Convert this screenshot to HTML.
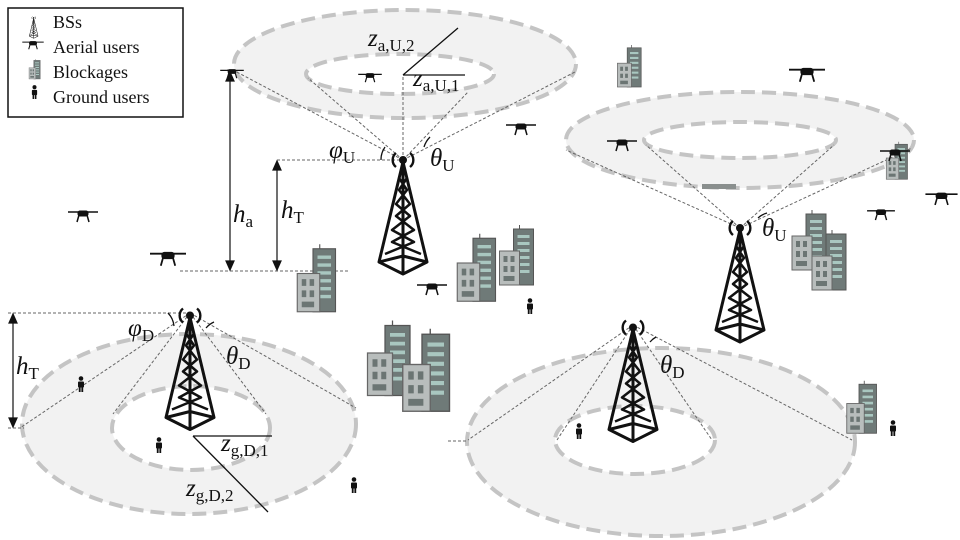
<!DOCTYPE html>
<html><head><meta charset="utf-8"><style>
body{margin:0;background:#fff}
svg{display:block}
text{font-family:"Liberation Serif",serif}
</style></head><body>
<svg width="960" height="540" viewBox="0 0 960 540" xmlns="http://www.w3.org/2000/svg">
<defs>
<symbol id="tw" viewBox="0 0 52 130" overflow="visible">
<g fill="none" stroke="#111" stroke-width="3" stroke-linejoin="round">
<path d="M19 3 A9 9 0 0 0 19 17 M33 3 A9 9 0 0 1 33 17" stroke-width="2.4"/>
<circle cx="26" cy="10" r="2.5" fill="#111"/>
<path d="M26 12 L2 112 L26 124 L50 112 Z M26 12 L26 124 M2 112 L26 106 L50 112"/>
<path d="M22 28 L30 40 L19 54 L33 66 L15 80 L37 92 L8 104 M30 28 L22 40 L33 54 L19 66 L37 80 L15 92 L44 104" stroke-width="2.5"/>
</g></symbol>
<symbol id="dr" viewBox="0 0 30 14" overflow="visible">
<g stroke="#111" fill="#111"><path d="M0 3 H11 M19 3 H30" stroke-width="1.5"/><rect x="10" y="2" width="10" height="5" rx="2"/><path d="M11 6 L9 13 M19 6 L21 13" stroke-width="1.5" fill="none"/></g></symbol>
<symbol id="pp" viewBox="0 0 8 16" overflow="visible">
<g fill="#111"><circle cx="4" cy="2.5" r="2.3"/><rect x="1" y="5.5" width="6" height="6" rx="1"/><rect x="1.8" y="11" width="1.8" height="5"/><rect x="4.4" y="11" width="1.8" height="5"/></g></symbol>
<symbol id="bd" viewBox="0 0 40 60" overflow="visible">
<rect x="16" y="4" width="20" height="56" fill="#6f7a78" stroke="#555"/>
<line x1="22" y1="0" x2="22" y2="4" stroke="#555"/>
<g fill="#a9c7c0"><rect x="20" y="10" width="12" height="3"/><rect x="20" y="17" width="12" height="3"/><rect x="20" y="24" width="12" height="3"/><rect x="20" y="31" width="12" height="3"/><rect x="20" y="38" width="12" height="3"/><rect x="20" y="45" width="12" height="3"/></g>
<rect x="2" y="26" width="20" height="34" fill="#b8bdbc" stroke="#666"/>
<g fill="#6b7573"><rect x="6" y="31" width="4" height="6"/><rect x="13" y="31" width="4" height="6"/><rect x="6" y="41" width="4" height="6"/><rect x="13" y="41" width="4" height="6"/><rect x="6" y="51" width="11" height="5"/></g>
</symbol>
</defs>

<g fill="#f2f2f2" stroke="#c4c4c4" stroke-width="4" stroke-dasharray="14 7">
<ellipse cx="405" cy="64" rx="171" ry="54"/>
<ellipse cx="740" cy="140" rx="174" ry="48"/>
<ellipse cx="189" cy="424" rx="167" ry="90"/>
<ellipse cx="661" cy="442" rx="194" ry="94"/>
</g>
<g fill="#fff" stroke="#c4c4c4" stroke-width="4" stroke-dasharray="14 7">
<ellipse cx="400" cy="74" rx="94" ry="20"/>
<ellipse cx="740" cy="140" rx="96" ry="18"/>
<ellipse cx="191" cy="428" rx="79" ry="42"/>
<ellipse cx="635" cy="440" rx="80" ry="34"/>
</g>

<g stroke="#666" stroke-width="1" stroke-dasharray="3 2" fill="none">
<path d="M403 160 L233 70 M403 160 L308 78 M403 160 L403 75 M403 160 L468 92 M403 160 L575 72 M277 160 L403 160 M180 271 L350 271 M227 70 L235 70"/>
<path d="M740 228 L566 150 M740 228 L646 145 M740 228 L834 145 M740 228 L912 148"/>
<path d="M190 313 L20 428 M190 313 L113 414 M190 313 L266 414 M190 313 L356 408 M8 313 L190 313 M8 428 L24 428"/>
<path d="M633 325 L468 440 M633 325 L557 440 M633 325 L712 440 M633 325 L852 440 M448 441 L468 441"/>
</g>

<g stroke="#111" stroke-width="1.3" fill="none">
<path d="M403 75 L458 28 M403 75 L465 75"/>
<path d="M193 436 L268 512 M193 436 L272 436"/>
</g>

<g stroke="#111" stroke-width="1.2" fill="#111">
<line x1="230" y1="76" x2="230" y2="265"/><path d="M230 72 l-4 9 h8z M230 270 l-4 -9 h8z"/>
<line x1="277" y1="165" x2="277" y2="265"/><path d="M277 161 l-4 9 h8z M277 270 l-4 -9 h8z"/>
<line x1="13" y1="318" x2="13" y2="423"/><path d="M13 314 l-4 9 h8z M13 427 l-4 -9 h8z"/>
</g>

<g stroke="#111" stroke-width="1.3" fill="none">
<path d="M381 160 A22 22 0 0 1 385 147"/>
<path d="M424 147 A24 24 0 0 1 430 137"/>
<path d="M758 218 A22 22 0 0 1 767 213"/>
<path d="M168 313 A22 22 0 0 1 174 326"/>
<path d="M206 328 A22 22 0 0 1 214 322"/>
<path d="M650 342 A22 22 0 0 1 656 337"/>
</g>

<use href="#tw" x="377" y="150" width="52" height="130"/>
<use href="#tw" x="714" y="218" width="52" height="130"/>
<use href="#tw" x="164" y="303" width="52" height="135"/>
<use href="#tw" x="607" y="315" width="52" height="135"/>

<use href="#bd" x="295" y="238" width="45" height="80"/>
<use href="#bd" x="455" y="225" width="45" height="85"/>
<use href="#bd" x="495" y="225" width="45" height="60"/>
<use href="#bd" x="365" y="318" width="50" height="80"/>
<use href="#bd" x="400" y="320" width="55" height="100"/>
<use href="#bd" x="612" y="45" width="36" height="42"/>
<use href="#bd" x="790" y="210" width="40" height="60"/>
<use href="#bd" x="810" y="230" width="40" height="60"/>
<use href="#bd" x="885" y="138" width="25" height="45"/>
<use href="#bd" x="845" y="378" width="35" height="58"/>
<rect x="702" y="184" width="34" height="5" fill="#8a8f8e"/>

<use href="#dr" x="220" y="68" width="24" height="11"/>
<use href="#dr" x="358" y="72" width="24" height="11"/>
<use href="#dr" x="506" y="122" width="30" height="14"/>
<use href="#dr" x="789" y="66" width="36" height="17"/>
<use href="#dr" x="607" y="138" width="30" height="14"/>
<use href="#dr" x="880" y="148" width="30" height="14"/>
<use href="#dr" x="867" y="208" width="28" height="13"/>
<use href="#dr" x="925" y="191" width="33" height="15"/>
<use href="#dr" x="68" y="209" width="30" height="14"/>
<use href="#dr" x="150" y="250" width="36" height="17"/>
<use href="#dr" x="417" y="282" width="30" height="14"/>

<use href="#pp" x="77" y="376" width="8" height="16"/>
<use href="#pp" x="155" y="437" width="8" height="16"/>
<use href="#pp" x="350" y="477" width="8" height="16"/>
<use href="#pp" x="526" y="298" width="8" height="16"/>
<use href="#pp" x="575" y="423" width="8" height="16"/>
<use href="#pp" x="889" y="420" width="8" height="16"/>

<g fill="#111" font-size="25">
<text x="368" y="46" font-style="italic">z<tspan font-style="normal" font-size="17" dy="5">a,U,2</tspan></text>
<text x="413" y="86" font-style="italic">z<tspan font-style="normal" font-size="17" dy="5">a,U,1</tspan></text>
<text x="329" y="158" font-style="italic">φ<tspan font-style="normal" font-size="17" dy="5">U</tspan></text>
<text x="430" y="166" font-style="italic">θ<tspan font-style="normal" font-size="17" dy="5">U</tspan></text>
<text x="233" y="222" font-style="italic">h<tspan font-style="normal" font-size="17" dy="5">a</tspan></text>
<text x="281" y="218" font-style="italic">h<tspan font-style="normal" font-size="17" dy="5">T</tspan></text>
<text x="762" y="236" font-style="italic">θ<tspan font-style="normal" font-size="17" dy="5">U</tspan></text>
<text x="128" y="336" font-style="italic">φ<tspan font-style="normal" font-size="17" dy="5">D</tspan></text>
<text x="226" y="364" font-style="italic">θ<tspan font-style="normal" font-size="17" dy="5">D</tspan></text>
<text x="16" y="374" font-style="italic">h<tspan font-style="normal" font-size="17" dy="5">T</tspan></text>
<text x="221" y="451" font-style="italic">z<tspan font-style="normal" font-size="17" dy="5">g,D,1</tspan></text>
<text x="186" y="496" font-style="italic">z<tspan font-style="normal" font-size="17" dy="5">g,D,2</tspan></text>
<text x="660" y="373" font-style="italic">θ<tspan font-style="normal" font-size="17" dy="5">D</tspan></text>
</g>

<rect x="8" y="8" width="175" height="109" fill="#fff" stroke="#111" stroke-width="1.5"/>
<g transform="translate(29,16) scale(0.18)"><use href="#tw" x="0" y="0" width="52" height="130"/></g>
<use href="#dr" x="22" y="40" width="22" height="10"/>
<use href="#bd" x="27" y="59" width="16" height="20"/>
<use href="#pp" x="31" y="85" width="7" height="14"/>
<g font-size="18" fill="#111">
<text x="53" y="28">BSs</text>
<text x="53" y="53">Aerial users</text>
<text x="53" y="78">Blockages</text>
<text x="53" y="103">Ground users</text>
</g>
</svg>
</body></html>
